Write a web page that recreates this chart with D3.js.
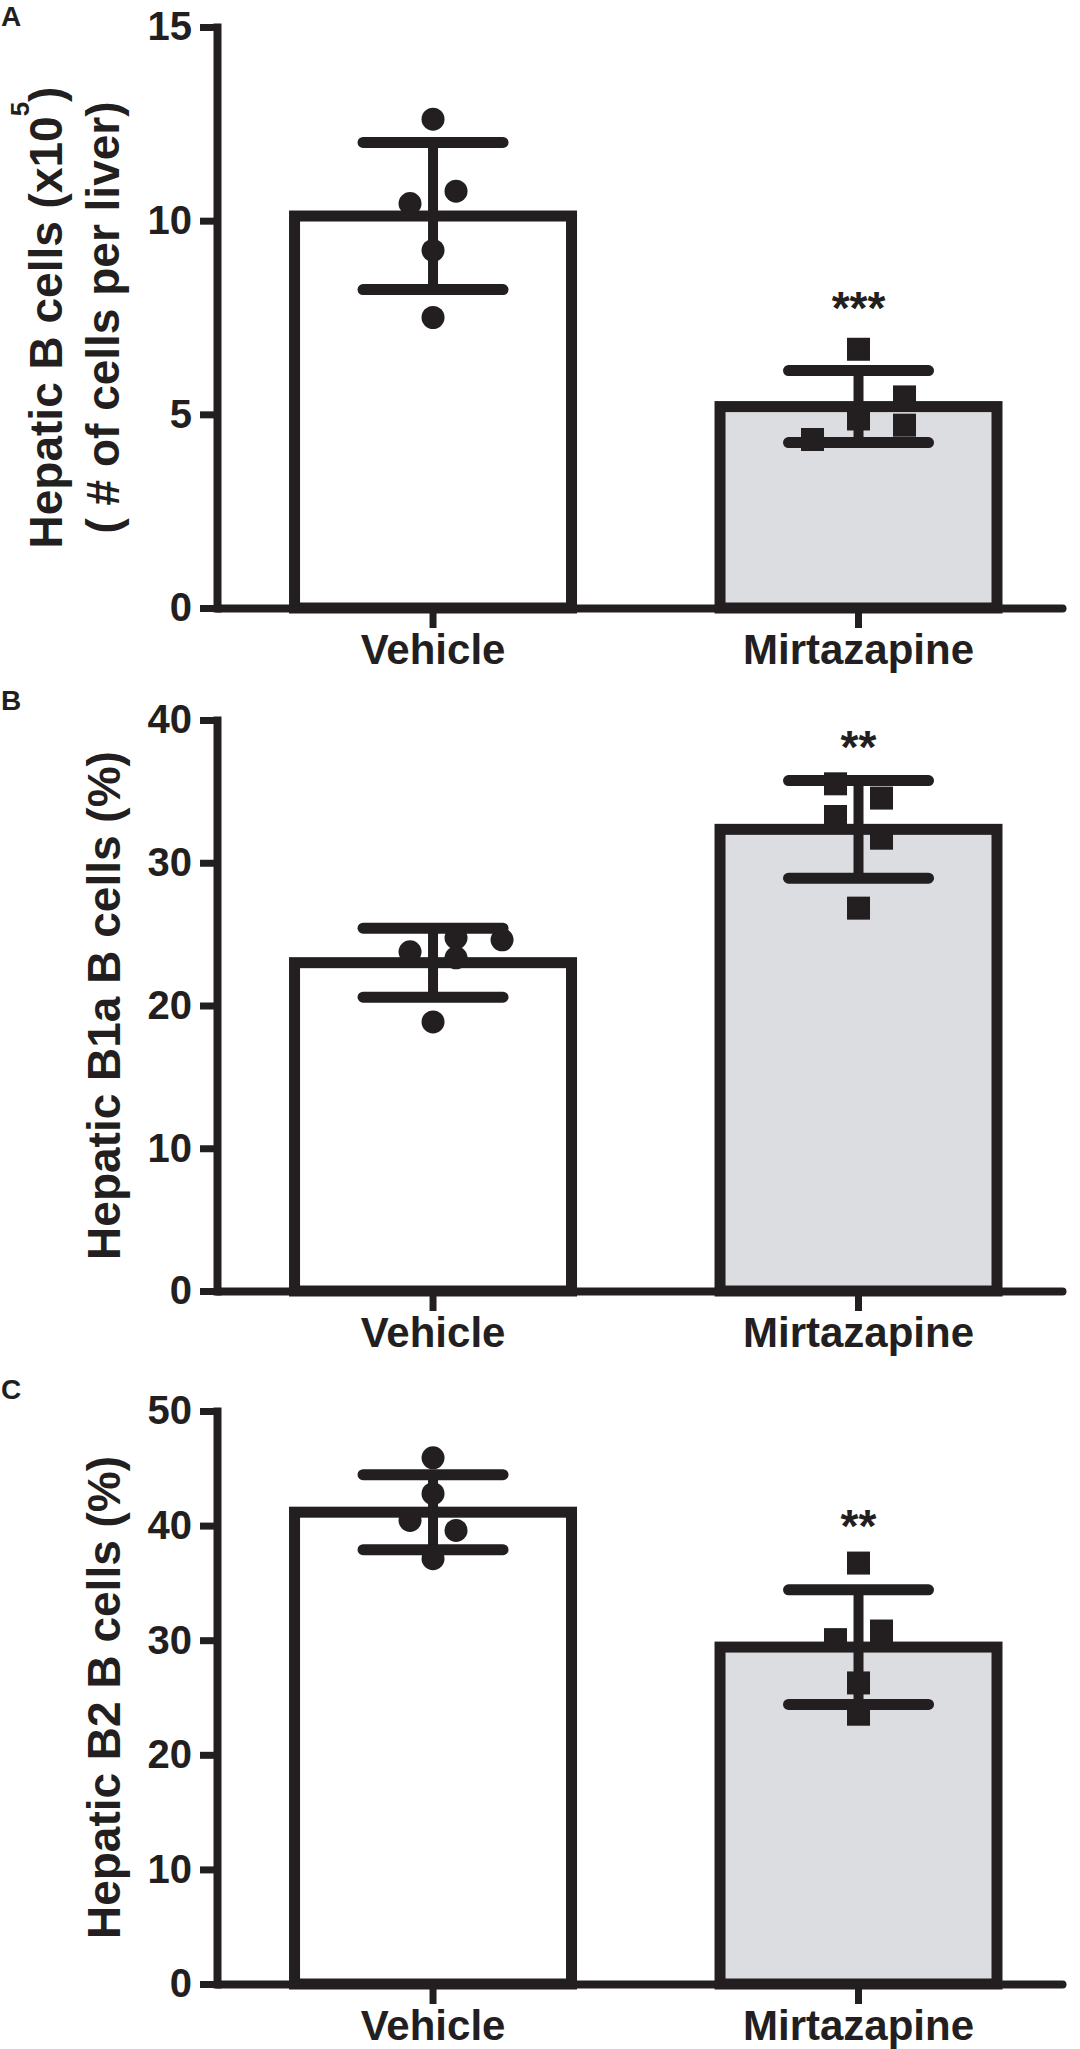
<!DOCTYPE html>
<html>
<head>
<meta charset="utf-8">
<script src="https://cdn.jsdelivr.net/npm/d3@7/dist/d3.min.js"></script>
<style>
html, body { margin: 0; padding: 0; background: #ffffff; }
svg { display: block; }
text { font-family: "Liberation Sans", Arial, Helvetica, sans-serif; font-weight: bold; fill: #231f20; }
</style>
</head>
<body>
<svg id="chart" width="1080" height="2049"></svg>
<script>
// ---------- DATA ----------
const categories = ["Vehicle", "Mirtazapine"];
const panelLetters = ["A", "B", "C"];

const yMaxA = 15, yMaxB = 40, yMaxC = 50;
const yTicksA = [0, 5, 10, 15];
const yTicksB = [0, 10, 20, 30, 40];
const yTicksC = [0, 10, 20, 30, 40, 50];

// bar heights (mean) and SD per category
const meanA = [10.12, 5.2];
const sdA = [1.9, 0.93];
const meanB = [23.0, 32.34];
const sdB = [2.42, 3.42];
const meanC = [41.17, 29.4];
const sdC = [3.27, 5.0];

// individual animals
const vehicleA = [12.62, 10.76, 10.44, 9.23, 7.5];
const mirtA = [6.68, 5.45, 4.72, 4.88, 4.35];
const vehicleB = [23.76, 24.74, 24.6, 23.34, 18.85];
const mirtB = [35.53, 33.24, 34.53, 31.72, 26.82];
const vehicleC = [45.92, 42.78, 40.45, 39.58, 37.11];
const mirtC = [36.73, 30.05, 30.8, 26.27, 23.54];

// horizontal scatter slot of each point (in symbol widths)
const jitVehicleA = [0, 1, -1, 0, 0];
const jitMirtA = [0, 2, 2, 0, -2];
const jitVehicleB = [-1, 1, 3, 1, 0];
const jitMirtB = [-1, -1, 1, 1, 0];
const jitVehicleC = [0, 0, -1, 1, 0];
const jitMirtC = [0, -1, 1, 0, 0];

// significance marks (over Mirtazapine) and their level in data units
const starLabels = ["***", "**", "**"];
const starLevels = [8.0, 38.8, 40.8];

const titleB = "Hepatic B1a B cells (%)";
const titleC = "Hepatic B2 B cells (%)";

// ---------- STYLE / LAYOUT ----------
const INK = "#231f20";
const GREY = "#dcdde0";
const fills = ["#ffffff", GREY];
const panelTop = [27, 720, 1411];
const panelBottom = [608, 1291, 1984];
const xRange = [217, 1062];
const sym = 23;

const svg = d3.select("#chart");

const panels = [
  { yMax: yMaxA, ticks: yTicksA, mean: meanA, sd: sdA, pts: [vehicleA, mirtA], jit: [jitVehicleA, jitMirtA] },
  { yMax: yMaxB, ticks: yTicksB, mean: meanB, sd: sdB, pts: [vehicleB, mirtB], jit: [jitVehicleB, jitMirtB] },
  { yMax: yMaxC, ticks: yTicksC, mean: meanC, sd: sdC, pts: [vehicleC, mirtC], jit: [jitVehicleC, jitMirtC] }
];

panels.forEach((p, i) => {
  const g = svg.append("g");
  const y = d3.scaleLinear().domain([0, p.yMax]).range([panelBottom[i], panelTop[i]]);
  const x = d3.scaleBand().domain(categories).range(xRange)
    .paddingInner(0.349).paddingOuter(0.1675).align(0.544);
  const cx = c => x(c) + x.bandwidth() / 2;

  // bars
  g.selectAll("rect.bar").data(categories).join("rect")
    .attr("class", "bar")
    .attr("x", c => x(c))
    .attr("width", x.bandwidth())
    .attr("y", (c, k) => y(p.mean[k]))
    .attr("height", (c, k) => y(0) - y(p.mean[k]))
    .attr("fill", (c, k) => fills[k])
    .attr("stroke", INK)
    .attr("stroke-width", 11);

  // y axis
  const ya = g.append("g").attr("transform", `translate(${xRange[0]},0)`)
    .call(d3.axisLeft(y).tickValues(p.ticks).tickSize(17).tickSizeOuter(0).tickPadding(8));
  ya.select(".domain").attr("stroke", INK).attr("stroke-width", 8).attr("stroke-linecap", "square");
  ya.selectAll(".tick line").attr("stroke", INK).attr("stroke-width", 7);
  ya.selectAll(".tick text").attr("font-size", 40).attr("fill", INK)
    .style("font-family", '"Liberation Sans", Arial, sans-serif').style("font-weight", "bold");

  // x axis
  const xa = g.append("g").attr("transform", `translate(0,${y(0)})`)
    .call(d3.axisBottom(x).tickSize(20).tickSizeOuter(0).tickPadding(6));
  xa.select(".domain").attr("stroke", INK).attr("stroke-width", 8).attr("stroke-linecap", "round");
  xa.selectAll(".tick line").attr("stroke", INK).attr("stroke-width", 7);
  xa.selectAll(".tick text").attr("font-size", 42).attr("fill", INK)
    .style("font-family", '"Liberation Sans", Arial, sans-serif').style("font-weight", "bold");

  // individual points
  categories.forEach((c, k) => {
    const data = p.pts[k].map((v, j) => ({ v, s: p.jit[k][j] }));
    if (k === 0) {
      g.selectAll("circle.pt").data(data).join("circle")
        .attr("class", "pt")
        .attr("cx", d => cx(c) + d.s * sym)
        .attr("cy", d => y(d.v))
        .attr("r", sym / 2)
        .attr("fill", INK);
    } else {
      g.selectAll("rect.pt").data(data).join("rect")
        .attr("class", "pt")
        .attr("x", d => cx(c) + d.s * sym - sym / 2)
        .attr("y", d => y(d.v) - sym / 2)
        .attr("width", sym)
        .attr("height", sym)
        .attr("fill", INK);
    }
  });

  // error bars (mean ± SD)
  categories.forEach((c, k) => {
    const hi = y(p.mean[k] + p.sd[k]), lo = y(p.mean[k] - p.sd[k]);
    g.append("line").attr("x1", cx(c)).attr("x2", cx(c)).attr("y1", hi).attr("y2", lo)
      .attr("stroke", INK).attr("stroke-width", 10);
    [hi, lo].forEach(yy => {
      g.append("line").attr("x1", cx(c) - 70).attr("x2", cx(c) + 70).attr("y1", yy).attr("y2", yy)
        .attr("stroke", INK).attr("stroke-width", 11).attr("stroke-linecap", "round");
    });
  });

  // significance
  g.append("text").attr("x", cx(categories[1])).attr("y", y(starLevels[i]) + 26)
    .attr("text-anchor", "middle").attr("font-size", 46).text(starLabels[i]);

  // panel letter
  g.append("text").attr("x", 1).attr("y", panelTop[i] - [1, 10, 12][i])
    .attr("font-size", 28).text(panelLetters[i]);

  // y-axis title
  const midY = (panelTop[i] + panelBottom[i]) / 2;
  if (i === 0) {
    const t1 = g.append("text").attr("transform", `translate(62,${midY}) rotate(-90)`)
      .attr("text-anchor", "middle").attr("font-size", 46);
    t1.append("tspan").text("Hepatic B cells (x10");
    t1.append("tspan").attr("font-size", 26).attr("dy", -33).text("5");
    t1.append("tspan").attr("dy", 33).text(")");
    g.append("text").attr("transform", `translate(119,${midY}) rotate(-90)`)
      .attr("text-anchor", "middle").attr("font-size", 46).text("( # of cells per liver)");
  } else {
    g.append("text").attr("transform", `translate(120,${midY}) rotate(-90)`)
      .attr("text-anchor", "middle").attr("font-size", 46).text(i === 1 ? titleB : titleC);
  }
});
</script>
</body>
</html>
